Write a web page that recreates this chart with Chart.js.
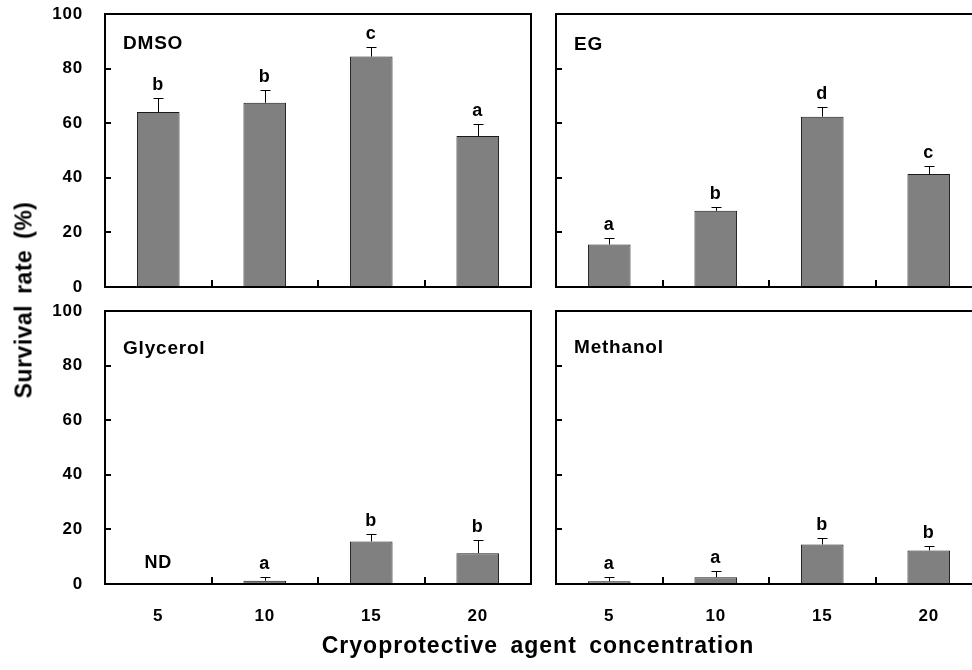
<!DOCTYPE html>
<html><head><meta charset="utf-8">
<script src="https://cdn.jsdelivr.net/npm/chart.js@4.4.1/dist/chart.umd.min.js"></script>
<style>
html,body{margin:0;padding:0;background:#fff;overflow:hidden;width:972px;height:670px;}
#wrap{position:relative;width:972px;height:670px;overflow:hidden;background:#fff;}
canvas{position:absolute;left:0;top:-40px;}
.t{position:absolute;font-family:Arial,"Liberation Sans",sans-serif;font-weight:bold;color:#000;white-space:nowrap;}
#xt{left:538px;top:633px;font-size:23px;line-height:24px;letter-spacing:1px;word-spacing:5px;transform:translateX(-50%);}
#yt{left:24px;top:300px;font-size:23px;line-height:25px;letter-spacing:0.5px;word-spacing:4px;transform:translate(-50%,-50%) rotate(-90deg);}
</style></head><body>
<div id="wrap">
<canvas id="c1" width="990" height="710" style="width:990px;height:710px"></canvas>
<canvas id="c2" width="990" height="710" style="width:990px;height:710px"></canvas>
<canvas id="c3" width="990" height="710" style="width:990px;height:710px"></canvas>
<canvas id="c4" width="990" height="710" style="width:990px;height:710px"></canvas>
<div class="t" id="xt">Cryoprotective agent concentration</div>
<div class="t" id="yt">Survival rate (%)</div>
</div>
<script>
// ---- data ----
const categories = ['5', '10', '15', '20'];
const yTicks = [0, 20, 40, 60, 80, 100];

const dmsoValues = [64.1, 67.5, 84.4, 55.3];
const dmsoErrors = [5.2, 4.7, 3.6, 4.3];
const dmsoLetters = ['b', 'b', 'c', 'a'];

const egValues = [15.6, 27.9, 62.4, 41.4];
const egErrors = [2.5, 1.3, 3.6, 2.9];
const egLetters = ['a', 'b', 'd', 'c'];

const glycerolValues = [null, 1.2, 15.6, 11.3];
const glycerolErrors = [0, 1.3, 2.7, 4.8];
const glycerolLetters = ['ND', 'a', 'b', 'b'];

const methanolValues = [1.0, 2.5, 14.5, 12.3];
const methanolErrors = [1.5, 2.1, 2.3, 1.8];
const methanolLetters = ['a', 'a', 'b', 'b'];

// ---- drawing ----
const OFF = 40;               // canvases are shifted up by OFF px
const W = 990, H = 670 + OFF, XBAND = 50;
const FONT = 'Arial, "Liberation Sans", sans-serif';

const decoPlugin = {
  id: 'deco',
  beforeDraw(chart) { chart.ctx.letterSpacing = '0.8px'; },
  afterDatasetsDraw(chart, args, opts) {
    const ctx = chart.ctx, a = chart.chartArea, x = chart.scales.x, y = chart.scales.y;
    const ds = chart.data.datasets[0];
    ctx.save();
    ctx.letterSpacing = '0.8px';
    // error bars (upper whisker only)
    ctx.strokeStyle = '#000';
    ctx.lineWidth = 1;
    ds.data.forEach((v, i) => {
      if (v == null) return;
      const cx = Math.round(x.getPixelForValue(i)) + 0.5;
      const top = y.getPixelForValue(v);
      const tip = Math.round(y.getPixelForValue(v + ds.errors[i])) + 0.5;
      ctx.beginPath();
      ctx.moveTo(cx, top); ctx.lineTo(cx, tip);
      ctx.moveTo(cx - 5, tip); ctx.lineTo(cx + 5, tip);
      ctx.stroke();
    });
    // significance letters
    ctx.fillStyle = '#000';
    ctx.font = 'bold 18px ' + FONT;
    ctx.textAlign = 'center';
    ctx.textBaseline = 'alphabetic';
    ds.letters.forEach((s, i) => {
      const v = ds.data[i];
      const cx = x.getPixelForValue(i);
      let yy;
      if (v == null) yy = y.getPixelForValue(0) - 16;
      else yy = y.getPixelForValue(v + ds.errors[i]) - 8;
      ctx.fillText(s, cx, yy);
    });
    // panel name
    ctx.font = 'bold 19px ' + FONT;
    ctx.textAlign = 'left';
    ctx.fillText(ds.label, a.left + 18, a.top + opts.nameOffset);
    // frame
    ctx.lineWidth = 2;
    ctx.strokeRect(a.left, a.top, a.right - a.left, a.bottom - a.top);
    // inner ticks
    ctx.beginPath();
    yTicks.forEach(t => {
      if (t === 0 || t === 100) return;
      const py = Math.round(y.getPixelForValue(t));
      ctx.moveTo(a.left, py); ctx.lineTo(a.left + 6, py);
    });
    for (let i = 0; i < categories.length - 1; i++) {
      const px = Math.round((x.getPixelForValue(i) + x.getPixelForValue(i + 1)) / 2);
      ctx.moveTo(px, a.bottom); ctx.lineTo(px, a.bottom - 7);
    }
    ctx.stroke();
    ctx.restore();
  }
};

function makePanel(id, name, values, errors, letters, area, showY, showX, nameOffset) {
  const tickFont = { family: FONT, size: 17, weight: 'bold' };
  const top = area.top + OFF, bottom = area.bottom + OFF;
  return new Chart(document.getElementById(id), {
    type: 'bar',
    data: {
      labels: categories,
      datasets: [{
        label: name, data: values, errors: errors, letters: letters,
        backgroundColor: '#808080', borderColor: '#1a1a1a', borderWidth: 1,
        barPercentage: 0.4, categoryPercentage: 1.0
      }]
    },
    options: {
      responsive: false, animation: false, devicePixelRatio: 1,
      events: [],
      layout: { padding: { left: showY ? 0 : area.left, top: top, right: W - area.right, bottom: H - bottom - XBAND } },
      plugins: { legend: { display: false }, tooltip: { enabled: false }, title: { display: false }, deco: { nameOffset: nameOffset } },
      scales: {
        x: {
          grid: { display: false, drawTicks: false }, border: { display: false },
          ticks: { display: true, font: tickFont, color: showX ? '#000' : 'rgba(0,0,0,0)', padding: 22, maxRotation: 0, autoSkip: false },
          afterFit: s => { s.height = XBAND; }
        },
        y: {
          min: 0, max: 100,
          afterBuildTicks: s => { s.ticks = yTicks.map(v => ({ value: v })); },
          grid: { display: false, drawTicks: false }, border: { display: false },
          ticks: { display: showY, font: tickFont, color: '#000', padding: 22 },
          afterFit: s => { s.width = showY ? area.left : 0; }
        }
      }
    },
    plugins: [decoPlugin]
  });
}

makePanel('c1', 'DMSO', dmsoValues, dmsoErrors, dmsoLetters, { left: 105, top: 14, right: 531, bottom: 287 }, true, false, 35);
makePanel('c2', 'EG', egValues, egErrors, egLetters, { left: 556, top: 14, right: 982, bottom: 287 }, false, false, 36);
makePanel('c3', 'Glycerol', glycerolValues, glycerolErrors, glycerolLetters, { left: 105, top: 311, right: 531, bottom: 584 }, true, true, 43);
makePanel('c4', 'Methanol', methanolValues, methanolErrors, methanolLetters, { left: 556, top: 311, right: 982, bottom: 584 }, false, true, 42);
</script>
</body></html>
